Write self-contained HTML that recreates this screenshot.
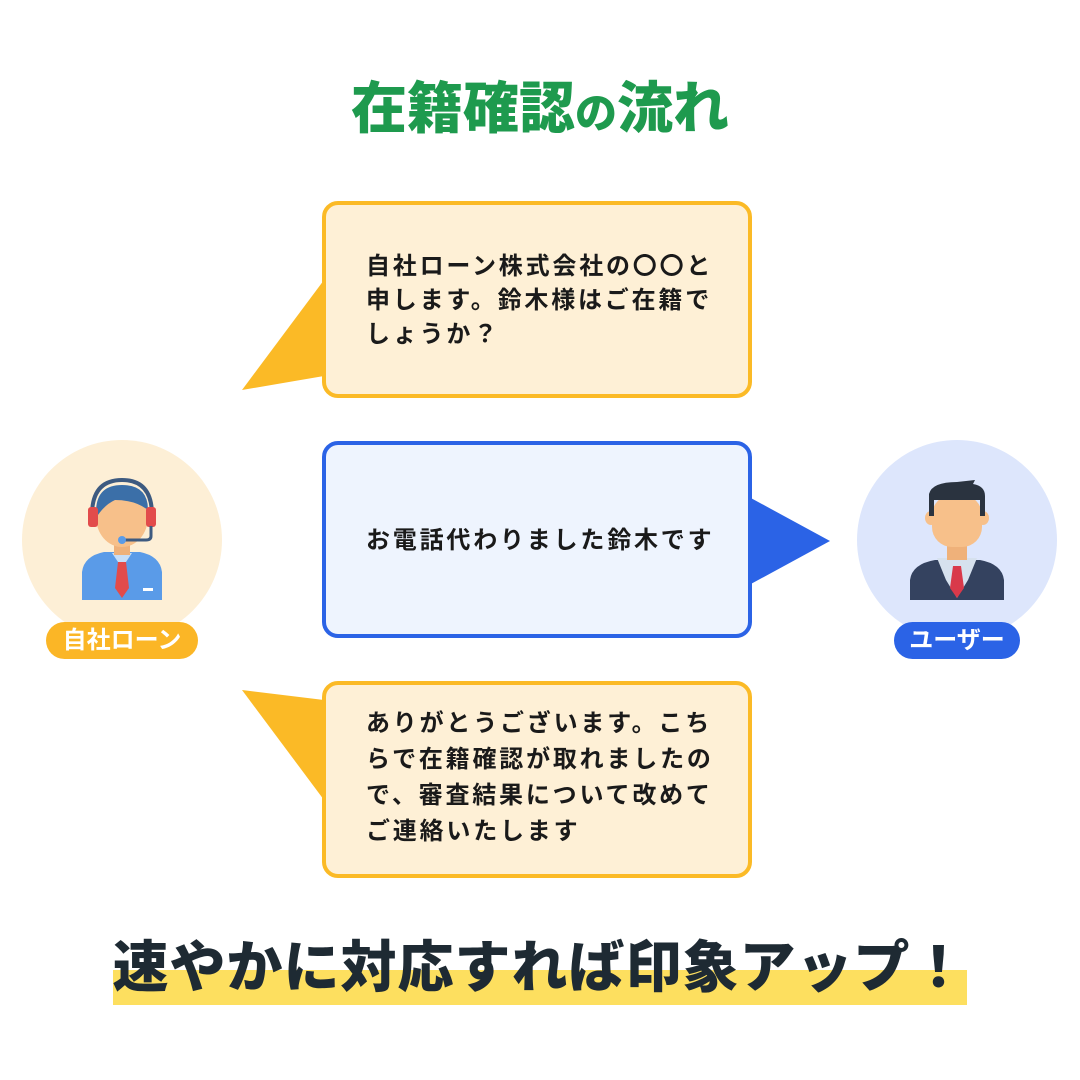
<!DOCTYPE html>
<html><head><meta charset="utf-8"><style>
body{margin:0;width:1080px;height:1080px;background:#fff;position:relative;overflow:hidden;font-family:"Liberation Sans","Noto Sans CJK JP",sans-serif}
.a{position:absolute}
.box{position:absolute;left:322px;border-radius:16px;box-sizing:border-box}
.t{position:absolute;left:366px;font-size:24px;letter-spacing:2.8px;font-weight:bold;color:#1a1a1a;line-height:34px;white-space:nowrap}
.pill{position:absolute;top:622px;height:37px;border-radius:19px;color:#fff;font-size:24px;font-weight:bold;text-align:center;line-height:37px}
</style></head><body>
<div class="a" style="left:0;width:1080px;top:72px;text-align:center;font-size:56px;font-weight:900;color:#1e9a4e;line-height:74px">在籍確認<span style="font-size:42px">の</span>流れ</div>

<svg class="a" style="left:0;top:0" width="1080" height="1080">
<polygon points="324,280 242,390 324,376" fill="#FBBA26"/>
<polygon points="749,497 830,541 749,585" fill="#2B63E6"/>
<polygon points="324,700 242,690 324,800" fill="#FBBA26"/>
<circle cx="122" cy="540" r="100" fill="#FDEFD6"/>
<circle cx="957" cy="540" r="100" fill="#DDE6FC"/>
<path d="M82,600 L82,572 Q84,556 104,552 L140,552 Q160,556 162,572 L162,600 Z" fill="#5A9BE8"/>
<polygon points="112,553 132,553 122,568" fill="#C8DEF7"/>
<polygon points="118,562 126,562 129,588 122,598 115,588" fill="#E24B4B"/>
<rect x="143" y="588" width="10" height="3" fill="#fff"/>
<rect x="114" y="535" width="16" height="20" fill="#EFB17A"/>
<ellipse cx="122" cy="517" rx="26" ry="30" fill="#F7C08A"/>
<path d="M96,512 Q96,485 122,485 Q148,485 148,510 Q135,500 115,500 Q104,505 96,518 Z" fill="#3B6FA8"/>
<path d="M92,515 Q92,480 122,480 Q152,480 152,515" fill="none" stroke="#3D5A80" stroke-width="4"/>
<rect x="88" y="507" width="10" height="20" rx="3" fill="#E24B4B"/>
<rect x="146" y="507" width="10" height="20" rx="3" fill="#E24B4B"/>
<path d="M151,526 L151,536 Q151,540 146,540 L124,540" fill="none" stroke="#3D5A80" stroke-width="3"/>
<circle cx="122" cy="540" r="4" fill="#5A9BE8"/>
<path d="M910,600 L910,580 Q912,564 935,560 L980,560 Q1002,564 1004,580 L1004,600 Z" fill="#34425F"/>
<polygon points="937,558 977,558 968,580 957,598 946,580" fill="#D6E1EE"/>
<polygon points="953,566 961,566 964,588 957,598 950,588" fill="#D9394A"/>
<rect x="947" y="538" width="20" height="22" fill="#EFB17A"/>
<ellipse cx="931" cy="518" rx="6" ry="7" fill="#F7C08A"/>
<ellipse cx="983" cy="518" rx="6" ry="7" fill="#F7C08A"/>
<rect x="932" y="495" width="50" height="52" rx="20" fill="#F7C08A"/>
<path d="M929,516 L929,494 Q932,482 957,482 L975,480 L973,484 Q985,486 985,496 L985,516 L980,516 L980,500 L934,500 L934,516 Z" fill="#2A333F"/>
</svg>

<div class="box" style="top:201px;border:4px solid #FBBA26;background:#FEF0D6;height:197px;width:430px"></div>
<div class="box" style="top:441px;border:4px solid #2B63E6;background:#EEF4FE;height:197px;width:430px"></div>
<div class="box" style="top:681px;border:4px solid #FBBA26;background:#FEF0D6;height:197px;width:430px"></div>

<div class="t" style="top:250px">自社ローン株式会社の〇〇と<br>申します。鈴木様はご在籍で<br>しょうか？</div>
<div class="t" style="top:524px">お電話代わりました鈴木です</div>
<div class="t" style="top:706px;line-height:36px">ありがとうございます。こち<br>らで在籍確認が取れましたの<br>で、審査結果について改めて<br>ご連絡いたします</div>

<div class="pill" style="left:46px;width:152px;background:#FBB626">自社ローン</div>
<div class="pill" style="left:894px;width:126px;background:#2B63E6">ユーザー</div>

<div class="a" style="left:113px;top:970px;width:854px;height:35px;background:#FDDF5F"></div>
<div class="a" style="left:0;width:1080px;top:930px;text-align:center;font-size:56px;font-weight:900;color:#1e2a33;line-height:76px;letter-spacing:1px">速やかに対応すれば印象アップ！</div>
</body></html>
